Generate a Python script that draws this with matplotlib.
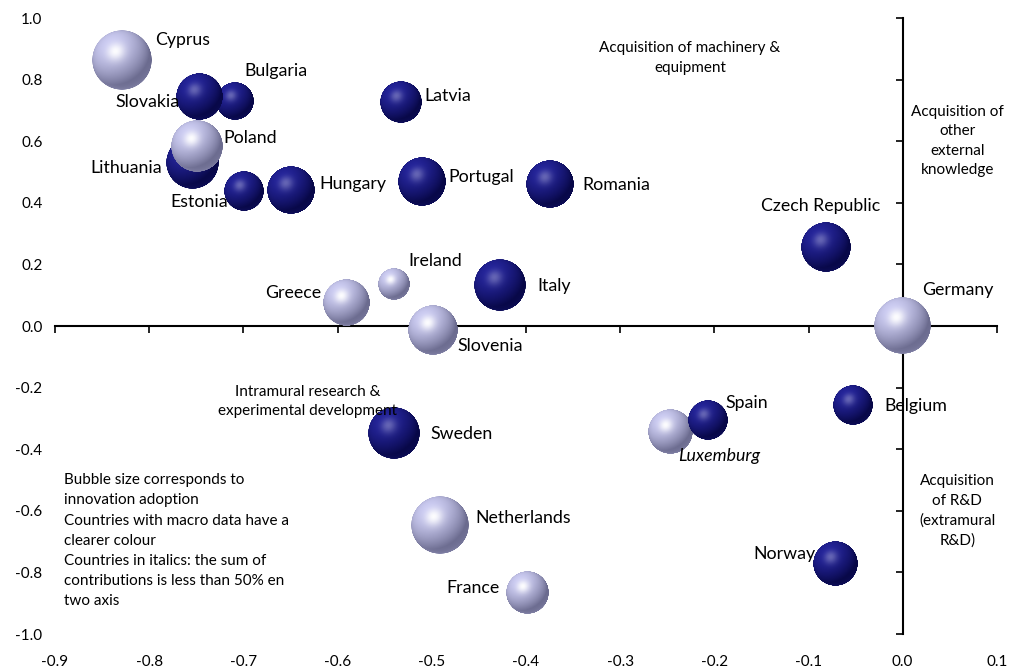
import numpy as np
import matplotlib
matplotlib.use('Agg')
from matplotlib import pyplot as plt
from matplotlib.offsetbox import OffsetImage, AnnotationBbox

plt.rcParams['font.family'] = ['Lato', 'DejaVu Sans']

# countries, in drawing order (later ones sit on top)
countries = ['Cyprus', 'Bulgaria', 'Slovakia', 'Lithuania', 'Poland', 'Estonia',
             'Hungary', 'Latvia', 'Portugal', 'Romania', 'Czech Republic', 'Germany',
             'Ireland', 'Greece', 'Italy', 'Slovenia', 'Sweden', 'Netherlands',
             'France', 'Luxemburg', 'Spain', 'Belgium', 'Norway']
x_vals = [-0.829, -0.709, -0.747, -0.754, -0.749, -0.699,
          -0.650, -0.533, -0.510, -0.375, -0.081, 0.000,
          -0.540, -0.591, -0.428, -0.499, -0.540, -0.491,
          -0.398, -0.247, -0.207, -0.053, -0.072]
y_vals = [0.864, 0.730, 0.746, 0.532, 0.585, 0.439,
          0.443, 0.728, 0.469, 0.461, 0.256, 0.000,
          0.136, 0.075, 0.134, -0.012, -0.347, -0.646,
          -0.867, -0.345, -0.304, -0.256, -0.773]
# innovation adoption (relative, drives bubble area)
adoption = [1.00, 0.40, 0.61, 0.78, 0.75, 0.44,
            0.64, 0.49, 0.64, 0.64, 0.69, 0.90,
            0.28, 0.59, 0.75, 0.69, 0.75, 0.93,
            0.51, 0.54, 0.44, 0.44, 0.54]
# countries with macro data get the lighter colour
macro = ['Cyprus', 'Poland', 'Germany', 'Ireland', 'Greece', 'Slovenia',
         'Netherlands', 'France', 'Luxemburg']
italic = ['Luxemburg']

xticks = np.round(np.arange(-0.9, 0.11, 0.1), 1)
yticks = np.round(np.arange(-1.0, 1.01, 0.2), 1)

# label placement: offset in points from the bubble centre, alignment
label_pos = {
    'Cyprus': (24, 14, 'left'), 'Bulgaria': (7, 22, 'left'),
    'Slovakia': (-14, -4, 'right'), 'Poland': (19, 6, 'left'),
    'Lithuania': (-22, -4, 'right'), 'Estonia': (-12, -8, 'right'),
    'Hungary': (21, 4, 'left'), 'Latvia': (17, 4, 'left'),
    'Portugal': (19, 3, 'left'), 'Romania': (24, -1, 'left'),
    'Czech Republic': (-4, 30, 'center'), 'Germany': (14, 26, 'left'),
    'Ireland': (10, 17, 'left'), 'Greece': (-18, 7, 'right'),
    'Italy': (27, -1, 'left'), 'Slovenia': (18, -12, 'left'),
    'Sweden': (26, -1, 'left'), 'Netherlands': (25, 5, 'left'),
    'France': (-20, 4, 'right'), 'Luxemburg': (6, -17, 'left'),
    'Spain': (13, 12, 'left'), 'Belgium': (23, -1, 'left'),
    'Norway': (-14, 7, 'right'),
}


def sphere(shadow, base, spec_amt, n=240):
    # shaded ball as an RGBA array, light coming from the upper left
    t = np.linspace(-1, 1, n)
    u, v = np.meshgrid(t, -t)
    r = np.sqrt(u**2 + v**2)
    nz = np.sqrt(np.clip(1 - r**2, 0, 1))
    L = np.array([-0.40, 0.55, 0.73])
    L = L / np.linalg.norm(L)
    H = L + np.array([0, 0, 1.0])
    H = H / np.linalg.norm(H)
    dif = np.clip(u*L[0] + v*L[1] + nz*L[2], 0, 1)
    spec = np.clip(u*H[0] + v*H[1] + nz*H[2], 0, 1)**22
    shadow = np.array(shadow)
    base = np.array(base)
    rgb = shadow + (base - shadow) * dif[..., None]
    # faint bounce light along the lower rim
    bounce = (1 - nz)**2 * np.clip(-v, 0, 1) * 0.35
    rgb = rgb + (base - rgb) * bounce[..., None]
    rgb = rgb + (1 - rgb) * spec[..., None] * spec_amt
    alpha = np.clip((1 - r) * n / 2, 0, 1)
    return np.dstack([np.clip(rgb, 0, 1), alpha])


N = 240
ball_dark = sphere((0.03, 0.03, 0.28), (0.14, 0.14, 0.60), 0.30, N)
ball_light = sphere((0.42, 0.42, 0.56), (0.80, 0.80, 0.95), 0.95, N)

fig = plt.figure(figsize=(10.1, 6.7), dpi=100)
rect = [0.0545, 0.0537, 0.9325, 0.9194]

# tick labels sit on the outer frame
axl = fig.add_axes(rect, frameon=False)
axl.set_xlim(-0.9, 0.1)
axl.set_ylim(-1.0, 1.0)
axl.set_xticks(xticks)
axl.set_yticks(yticks)
axl.set_xticklabels(['%.1f' % abs(t) if t == 0 else '%.1f' % t for t in xticks])
axl.set_yticklabels(['%.1f' % abs(t) if t == 0 else '%.1f' % t for t in yticks])
axl.tick_params(axis='x', length=0, pad=15, labelsize=11)
axl.tick_params(axis='y', length=0, pad=9, labelsize=11)

# the crossing axes
ax = fig.add_axes(rect)
ax.patch.set_visible(False)
ax.set_xlim(-0.9, 0.1)
ax.set_ylim(-1.0, 1.0)
for s in ['top', 'right']:
    ax.spines[s].set_visible(False)
ax.spines['left'].set_position(('data', 0))
ax.spines['bottom'].set_position(('data', 0))
for s in ['left', 'bottom']:
    ax.spines[s].set_linewidth(1.5)
ax.set_xticks(xticks)
ax.set_yticks(yticks)
ax.tick_params(direction='out', length=5, width=1.2,
               labelbottom=False, labelleft=False)

max_ad = max(adoption)
for name, x, y, a in zip(countries, x_vals, y_vals, adoption):
    d = 60 * np.sqrt(a / max_ad)
    img = ball_light if name in macro else ball_dark
    ab = AnnotationBbox(OffsetImage(img, zoom=d / N, dpi_cor=False), (x, y),
                        frameon=False, pad=0)
    ab.set_zorder(4)
    ax.add_artist(ab)
    dx, dy, ha = label_pos[name]
    ax.annotate(name, (x, y), xytext=(dx, dy), textcoords='offset points',
                ha=ha, va='center', fontsize=12.8,
                fontstyle='italic' if name in italic else 'normal', zorder=6)

note_kw = dict(fontsize=11, linespacing=1.5)
ax.text(-0.226, 0.870, 'Acquisition of machinery &\nequipment', ha='center',
        va='center', **note_kw)
ax.text(0.058, 0.600, 'Acquisition of\nother\nexternal\nknowledge', ha='center',
        va='center', **note_kw)
ax.text(-0.632, -0.245, 'Intramural research &\nexperimental development',
        ha='center', va='center', zorder=5, **note_kw)
ax.text(0.058, -0.600, 'Acquisition\nof R&D\n(extramural\nR&D)', ha='center',
        va='center', **note_kw)
ax.text(-0.890, -0.478, 'Bubble size corresponds to\ninnovation adoption\n'
        'Countries with macro data have a\nclearer colour\n'
        'Countries in italics: the sum of\ncontributions is less than 50% en\n'
        'two axis', ha='left', va='top', fontsize=11, linespacing=1.56)

fig.savefig('out.png', dpi=100)
